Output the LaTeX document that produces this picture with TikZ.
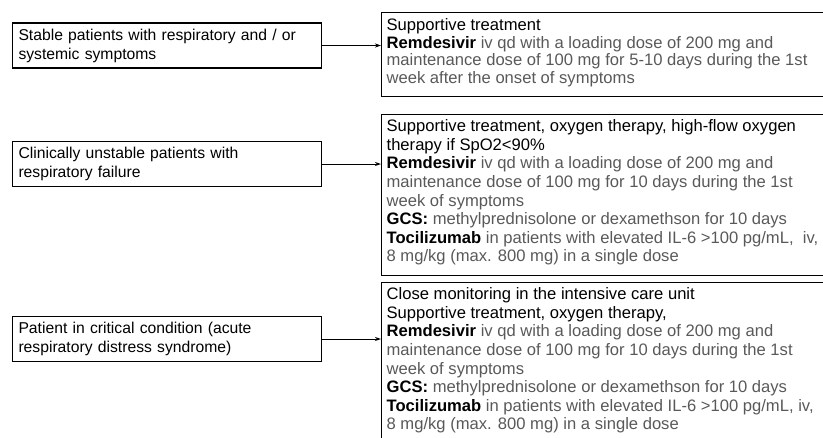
\documentclass[tikz,border=0pt]{standalone}
\usepackage{fontspec}
\setmainfont{Liberation Sans}
\usetikzlibrary{arrows.meta}
\definecolor{bodygray}{gray}{0.35}
\newcommand{\drugname}[1]{\textcolor{black}{\textbf{#1}}}
\newcommand{\firstline}[1]{\textcolor{black}{#1}}

\begin{document}
\begin{tikzpicture}[x=1pt,y=-1pt,
	patient/.style={draw, line width=1.3pt, text width=297pt, minimum height=45pt, inner xsep=6pt, align=left, font=\fontsize{15.7}{19}\selectfont},
	treat/.style={draw, line width=1.3pt, anchor=north west, inner sep=5pt, text=bodygray, font=\fontsize{16.6}{18.6}\selectfont},
	link/.style={-{Stealth[length=6pt,width=4pt]}, line width=1pt}]
	\useasboundingbox (0,0) rectangle (823,437);
	\clip (0,0) rectangle (823,437);
	% patient groups
	\node[patient] (stable) at (167,45.5) {Stable patients with respiratory and / or\\ systemic symptoms};
	\node[patient] (unstable) at (167,164) {Clinically unstable patients with\\ respiratory failure};
	\node[patient] (critical) at (167,339) {Patient in critical condition (acute\\ respiratory distress syndrome)};
	% treatments
	\node[treat, font=\fontsize{16.6}{17.5}\selectfont] (tstable) at (381,12) {\parbox[t][74pt][t]{450pt}{\raggedright\vspace*{1pt}
		\firstline{Supportive treatment}\\
		\drugname{Remdesivir} iv qd with a loading dose of 200 mg and\\
		maintenance dose of 100 mg for 5-10 days during the 1st\\
		week after the onset of symptoms}};
	\node[treat] (tunstable) at (381,114) {\parbox[t][151pt][t]{450pt}{\raggedright
		\firstline{Supportive treatment, oxygen therapy, high-flow oxygen}\\
		\firstline{therapy if SpO2<90\%}\\
		\drugname{Remdesivir} iv qd with a loading dose of 200 mg and\\
		maintenance dose of 100 mg for 10 days during the 1st\\
		week of symptoms\\
		\drugname{GCS:} methylprednisolone or dexamethson for 10 days\\
		\drugname{Tocilizumab} in patients with elevated IL-6 >100 pg/mL,~ iv,\\
		8 mg/kg (max. 800 mg) in a single dose}};
	\node[treat] (tcritical) at (381,282) {\parbox[t][200pt][t]{450pt}{\raggedright
		\firstline{Close monitoring in the intensive care unit}\\
		\firstline{Supportive treatment, oxygen therapy,}\\
		\drugname{Remdesivir} iv qd with a loading dose of 200 mg and\\
		maintenance dose of 100 mg for 10 days during the 1st\\
		week of symptoms\\
		\drugname{GCS:} methylprednisolone or dexamethson for 10 days\\
		\drugname{Tocilizumab} in patients with elevated IL-6 >100 pg/mL, iv,\\
		8 mg/kg (max. 800 mg) in a single dose}};
	\draw[link] (stable.east) -- (stable.east -| tstable.west);
	\draw[link] (unstable.east) -- (unstable.east -| tunstable.west);
	\draw[link] (critical.east) -- (critical.east -| tcritical.west);
\end{tikzpicture}
\end{document}
